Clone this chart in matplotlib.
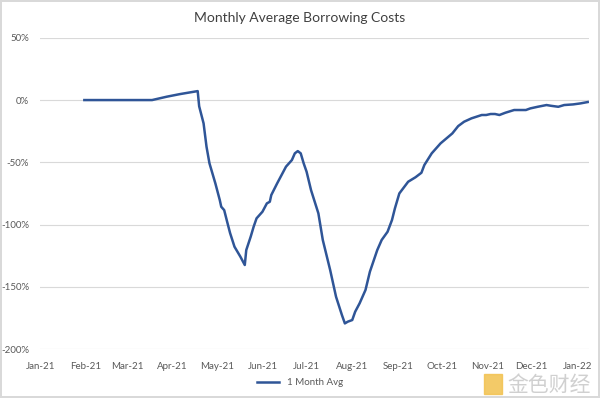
import matplotlib.pyplot as plt
import matplotlib.dates as mdates
from matplotlib.patches import Rectangle
import numpy as np
import pandas as pd

dates = ["2021-01-31", "2021-03-18", "2021-03-28", "2021-04-06", "2021-04-18",
         "2021-04-19", "2021-04-22", "2021-04-24", "2021-04-26", "2021-04-30",
         "2021-05-03", "2021-05-04", "2021-05-06", "2021-05-08", "2021-05-10",
         "2021-05-13", "2021-05-17", "2021-05-20", "2021-05-21", "2021-05-24",
         "2021-05-26", "2021-05-28", "2021-06-01", "2021-06-04", "2021-06-06",
         "2021-06-07", "2021-06-11", "2021-06-14", "2021-06-17", "2021-06-21",
         "2021-06-23", "2021-06-25", "2021-06-27", "2021-06-29", "2021-07-01",
         "2021-07-04", "2021-07-09", "2021-07-12", "2021-07-17", "2021-07-21",
         "2021-07-25", "2021-07-27", "2021-07-29", "2021-08-01", "2021-08-03",
         "2021-08-06", "2021-08-10", "2021-08-13", "2021-08-18", "2021-08-21",
         "2021-08-25", "2021-08-28", "2021-08-30", "2021-09-02", "2021-09-08",
         "2021-09-13", "2021-09-17", "2021-09-19", "2021-09-24", "2021-09-30",
         "2021-10-04", "2021-10-08", "2021-10-12", "2021-10-16", "2021-10-21",
         "2021-10-28", "2021-10-31", "2021-11-03", "2021-11-06", "2021-11-09",
         "2021-11-13", "2021-11-19", "2021-11-27", "2021-11-30", "2021-12-05",
         "2021-12-11", "2021-12-14", "2021-12-19", "2021-12-23", "2021-12-29",
         "2022-01-03", "2022-01-08"]
avg_1m = [0, 0, 2.7, 4.8, 7.2,
          -5, -18.7, -37.5, -50.8, -66.9,
          -80.3, -85.7, -88.4, -97.7, -106.8,
          -117.8, -125.8, -132.5, -120.5, -109.8,
          -101.8, -95, -89.7, -83, -81.7,
          -76.3, -66.9, -60.2, -53.5, -48.2,
          -42.8, -41, -42.8, -50.8, -57.6,
          -72.3, -91, -112.4, -136.5, -158,
          -172.7, -179.4, -178, -176.7, -170,
          -163.3, -152.6, -137.9, -120.5, -112.4,
          -105.8, -96.4, -87, -75, -65.6,
          -62, -58.4, -52.2, -42.8, -34.8,
          -30.8, -26.8, -20.9, -17.4, -14.7,
          -12, -12, -11.2, -11.2, -12,
          -10.2, -8, -8, -6.7, -5.4,
          -4, -4.6, -5.4, -4, -3.5,
          -2.7, -1.6]
y_ticks = [50, 0, -50, -100, -150, -200]

plt.rcParams['font.family'] = ['Lato', 'DejaVu Sans']
x = pd.to_datetime(dates)

fig = plt.figure(figsize=(6, 3.98), dpi=100)
fig.patch.set_edgecolor('#d9d9d9')
fig.patch.set_linewidth(1.5)
ax = fig.add_axes([0.067, 0.123, 0.915, 0.782])

ax.plot(x, avg_1m, color='#2f5597', linewidth=1.8, label='1 Month Avg')

ax.set_ylim(-200, 50)
ax.set_yticks(y_ticks)
ax.set_yticklabels([f"{v}%" for v in y_ticks])
ax.set_xlim(pd.Timestamp("2021-01-01"), pd.Timestamp("2022-01-09"))
ax.xaxis.set_major_locator(mdates.MonthLocator())
ax.xaxis.set_major_formatter(mdates.DateFormatter('%b-%y'))

ax.grid(axis='y', color='#d9d9d9', linewidth=0.8)
ax.set_axisbelow(True)
for s in ax.spines.values():
    s.set_visible(False)
ax.tick_params(length=0, colors='#595959', labelsize=7)
ax.tick_params(axis='x', pad=9)
ax.tick_params(axis='y', pad=8)

fig.text(0.5, 0.955, 'Monthly Average Borrowing Costs', ha='center', va='center',
         fontsize=10, color='#404040')
fig.legend(loc='center', bbox_to_anchor=(0.5, 0.038), frameon=False, fontsize=7,
           handlelength=2.2, labelcolor='#595959')

# watermark
fig.patches.append(Rectangle((0.806, 0.01), 0.03, 0.05, transform=fig.transFigure,
                             color='#f2c14e', alpha=0.85))
fig.text(0.845, 0.033, '金色财经', fontsize=15, color='#d0d0d0', va='center',
         family=['Noto Sans CJK SC', 'DejaVu Sans'])

fig.savefig('out.png', dpi=100)
